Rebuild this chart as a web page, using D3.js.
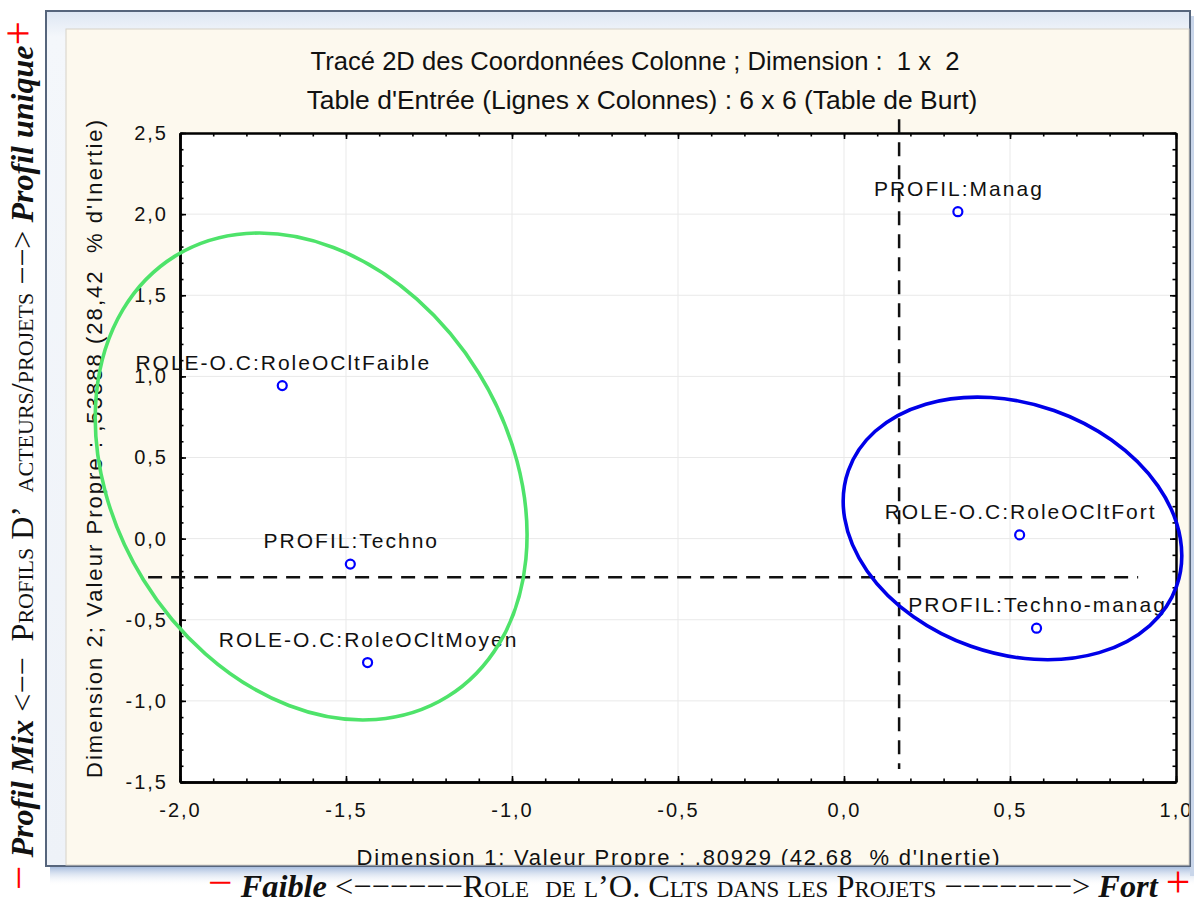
<!DOCTYPE html>
<html><head><meta charset="utf-8">
<script src="https://cdn.jsdelivr.net/npm/d3@7"></script>
<style>
html,body{margin:0;padding:0;background:#fff;}
svg{display:block;}
text{white-space:pre;}
</style></head>
<body><svg id="c" width="1194" height="901"></svg>
<script>
// ---------- data ----------
const pointLabels = ["PROFIL:Manag","ROLE-O.C:RoleOCltFaible","PROFIL:Techno","ROLE-O.C:RoleOCltMoyen","ROLE-O.C:RoleOCltFort","PROFIL:Techno-manag"];
const dim1 = [0.343,-1.692,-1.487,-1.435,0.529,0.580];
const dim2 = [2.015,0.943,-0.157,-0.764,0.023,-0.552];
const xTickValues = [-2,-1.5,-1,-0.5,0,0.5,1];
const xTickLabels = ["-2,0","-1,5","-1,0","-0,5","0,0","0,5","1,0"];
const yTickValues = [-1.5,-1,-0.5,0,0.5,1,1.5,2,2.5];
const yTickLabels = ["-1,5","-1,0","-0,5","0,0","0,5","1,0","1,5","2,0","2,5"];
const refH = [-0.238];           // dashed horizontal line (dimension 2 value)
const refV = [0.166];            // dashed vertical line (dimension 1 value)
const titleLines = ["Tracé 2D des Coordonnées Colonne ; Dimension :  1 x  2","Table d'Entrée (Lignes x Colonnes) : 6 x 6 (Table de Burt)"];
const xAxisTitle = "Dimension 1; Valeur Propre : ,80929 (42,68  % d'Inertie)";
const yAxisTitle = "Dimension 2; Valeur Propre : ,53888 (28,42  % d'Inertie)";
// groups (ellipses) : center in data units
const groupCenters = [[-1.605,0.383],[0.5075,0.063]];

// ---------- layout ----------
const svg = d3.select("#c");
const plot = {l:180, r:1176, t:133, b:782};
const x = d3.scaleLinear().domain([-2,1]).range([plot.l, plot.r]);
const y = d3.scaleLinear().domain([-1.5,2.5]).range([plot.b, plot.t]);
const sans = "'Liberation Sans', Arial, sans-serif";
const serif = "'Liberation Serif', 'Times New Roman', serif";

const defs = svg.append("defs");
const sg = defs.append("linearGradient").attr("id","shadow").attr("x1",0).attr("y1",0).attr("x2",0).attr("y2",1);
sg.append("stop").attr("offset","0%").attr("stop-color","#8eaad4").attr("stop-opacity",0.85);
sg.append("stop").attr("offset","100%").attr("stop-color","#ffffff").attr("stop-opacity",0);
const fg = defs.append("linearGradient").attr("id","frameg").attr("x1",0).attr("y1",0).attr("x2",0).attr("y2",1);
fg.append("stop").attr("offset","0%").attr("stop-color","#dde6f3");
fg.append("stop").attr("offset","3%").attr("stop-color","#f4f7fb");
fg.append("stop").attr("offset","100%").attr("stop-color","#eef2f8");
defs.append("clipPath").attr("id","panelclip").append("rect").attr("x",66).attr("y",29).attr("width",1123).attr("height",836);

// shadow + frame + panel
svg.append("rect").attr("x",50).attr("y",866).attr("width",1144).attr("height",20).attr("fill","url(#shadow)");
svg.append("rect").attr("x",1190).attr("y",16).attr("width",4).attr("height",860).attr("fill","#c9d6ea");
svg.append("rect").attr("x",46).attr("y",11).attr("width",1144).attr("height",855)
  .attr("fill","url(#frameg)").attr("stroke","#56657c").attr("stroke-width",2);
svg.append("rect").attr("x",66).attr("y",29).attr("width",1123).attr("height",836)
  .attr("fill","#fdf9ee").attr("stroke","#d6d2c8").attr("stroke-width",1);

const g = svg.append("g").attr("clip-path","url(#panelclip)");

function fitFont(sel, base, target){
  const w = sel.node().getComputedTextLength();
  sel.attr("font-size", base*target/w);
}

// titles
titleLines.forEach((t,i)=>{
  const tt = g.append("text").attr("x",[635,642][i]).attr("y",[70,109][i]).attr("text-anchor","middle")
    .attr("font-family",sans).attr("font-size",21).attr("fill","#111").text(t);
  fitFont(tt, 21, [649,671][i]);
});

// plot background
g.append("rect").attr("x",plot.l).attr("y",plot.t).attr("width",plot.r-plot.l).attr("height",plot.b-plot.t).attr("fill","#fff");

// grid
g.append("g").selectAll("line").data(xTickValues.slice(1,-1)).join("line")
  .attr("x1",d=>x(d)).attr("x2",d=>x(d)).attr("y1",plot.t).attr("y2",plot.b).attr("stroke","#e9e9e9").attr("stroke-width",1);
g.append("g").selectAll("line").data(yTickValues.slice(1,-1)).join("line")
  .attr("y1",d=>y(d)).attr("y2",d=>y(d)).attr("x1",plot.l).attr("x2",plot.r).attr("stroke","#e9e9e9").attr("stroke-width",1);

// axes
const minorX = d3.range(-20,11).map(d=>d/10);
const minorY = d3.range(-15,26).map(d=>d/10);
function styleAxis(sel, w){
  sel.select(".domain").attr("stroke","#000").attr("stroke-width",w);
  sel.selectAll(".tick line").attr("stroke","#000").attr("stroke-width",1.6);
  sel.selectAll(".tick text").attr("font-family",sans).attr("font-size",20).attr("letter-spacing","2px").attr("fill","#111");
}
g.append("g").attr("transform",`translate(0,${plot.b})`).call(d3.axisBottom(x).tickValues(minorX).tickFormat("").tickSize(-3.5).tickSizeOuter(0)).call(s=>styleAxis(s,2.5));
g.append("g").attr("transform",`translate(0,${plot.t})`).call(d3.axisTop(x).tickValues(minorX).tickFormat("").tickSize(-3.5).tickSizeOuter(0)).call(s=>styleAxis(s,2));
g.append("g").attr("transform",`translate(${plot.l},0)`).call(d3.axisLeft(y).tickValues(minorY).tickFormat("").tickSize(-3.5).tickSizeOuter(0)).call(s=>styleAxis(s,2.5));
g.append("g").attr("transform",`translate(${plot.r},0)`).call(d3.axisRight(y).tickValues(minorY).tickFormat("").tickSize(-3.5).tickSizeOuter(0)).call(s=>styleAxis(s,2));
g.append("g").attr("transform",`translate(0,${plot.b})`)
  .call(d3.axisBottom(x).tickValues(xTickValues).tickFormat((d,i)=>xTickLabels[i]).tickSize(-6).tickSizeOuter(0).tickPadding(21))
  .call(s=>styleAxis(s,2.5));
g.append("g").attr("transform",`translate(${plot.l},0)`)
  .call(d3.axisLeft(y).tickValues(yTickValues).tickFormat((d,i)=>yTickLabels[i]).tickSize(-6).tickSizeOuter(0).tickPadding(12))
  .call(s=>styleAxis(s,2.5));
g.append("g").attr("transform",`translate(0,${plot.t})`)
  .call(d3.axisTop(x).tickValues(xTickValues).tickFormat("").tickSize(-6).tickSizeOuter(0)).call(s=>styleAxis(s,2));
g.append("g").attr("transform",`translate(${plot.r},0)`)
  .call(d3.axisRight(y).tickValues(yTickValues).tickFormat("").tickSize(-6).tickSizeOuter(0)).call(s=>styleAxis(s,2));

// axis titles
g.append("text").attr("x",678).attr("y",865).attr("text-anchor","middle")
  .attr("font-family",sans).attr("font-size",22).attr("fill","#111")
  .attr("textLength",643).attr("lengthAdjust","spacing").text(xAxisTitle);
g.append("text").attr("transform","translate(102,449) rotate(-90)").attr("text-anchor","middle")
  .attr("font-family",sans).attr("font-size",22).attr("fill","#111")
  .attr("textLength",658).attr("lengthAdjust","spacing").text(yAxisTitle);

// points and labels
const pts = pointLabels.map((l,i)=>({label:l, x:dim1[i], y:dim2[i]}));
g.append("g").selectAll("text").data(pts).join("text")
  .attr("x",d=>x(d.x)+1).attr("y",d=>y(d.y)-16).attr("text-anchor","middle")
  .attr("font-family",sans).attr("font-size",21).attr("letter-spacing","2px").attr("fill","#111")
  .text(d=>d.label);
g.append("g").selectAll("circle").data(pts).join("circle")
  .attr("cx",d=>x(d.x)).attr("cy",d=>y(d.y)).attr("r",4.5)
  .attr("fill","none").attr("stroke","#0000ff").attr("stroke-width",2.2);

// dashed reference lines
const hExtent = [-2.096, 0.886];
const vExtent = [2.585, -1.42];
g.append("g").selectAll("line").data(refH).join("line")
  .attr("x1",x(hExtent[0])).attr("x2",x(hExtent[1])).attr("y1",d=>y(d)).attr("y2",d=>y(d))
  .attr("stroke","#111").attr("stroke-width",2.5).attr("stroke-dasharray","14,9");
g.append("g").selectAll("line").data(refV).join("line")
  .attr("y1",y(vExtent[0])).attr("y2",y(vExtent[1])).attr("x1",d=>x(d)).attr("x2",d=>x(d))
  .attr("stroke","#111").attr("stroke-width",2.5).attr("stroke-dasharray","14,9");

// ellipses (annotations)
const ellStyle = [{rx:259, ry:197, rot:58.3, color:"#4ee36a"},{rx:174, ry:125, rot:19.4, color:"#0000e8"}];
g.append("g").selectAll("ellipse").data(groupCenters).join("ellipse")
  .attr("transform",(d,i)=>`translate(${x(d[0])},${y(d[1])}) rotate(${ellStyle[i].rot})`)
  .attr("rx",(d,i)=>ellStyle[i].rx).attr("ry",(d,i)=>ellStyle[i].ry)
  .attr("fill","none").attr("stroke",(d,i)=>ellStyle[i].color).attr("stroke-width",3.6);

// ---------- outer annotations ----------
function richText(sel, parts){
  parts.forEach(p=>{
    const ts = sel.append("tspan").text(p.t);
    if(p.red) ts.attr("fill","#ff0000").attr("font-size","1.35em");
    if(p.bi) ts.attr("font-weight","bold").attr("font-style","italic");
    if(p.sc) ts.attr("font-variant","small-caps");
  });
}
const leftParts = [
  {t:"−",red:true},{t:" "},{t:"Profil Mix",bi:true},{t:" <−−  "},
  {t:"Profils D’  acteurs/projets",sc:true},{t:" −−> "},{t:"Profil unique",bi:true},{t:""},{t:"+",red:true}
];
const lt = svg.append("text").attr("transform","translate(33,890) rotate(-90)")
  .attr("font-family",serif).attr("font-size",28).attr("fill","#111");
richText(lt, leftParts);
fitFont(lt, 28, 880);

const bottomParts = [
  {t:"−",red:true},{t:" "},{t:"Faible",bi:true},{t:" <−−−−−−"},
  {t:"Role  de l’O. Clts dans les Projets",sc:true},{t:" −−−−−−−> "},{t:"Fort",bi:true},{t:" "},{t:"+",red:true}
];
const bt = svg.append("text").attr("x",208).attr("y",897)
  .attr("font-family",serif).attr("font-size",28).attr("fill","#111");
richText(bt, bottomParts);
fitFont(bt, 28, 984);
</script>
</body></html>
